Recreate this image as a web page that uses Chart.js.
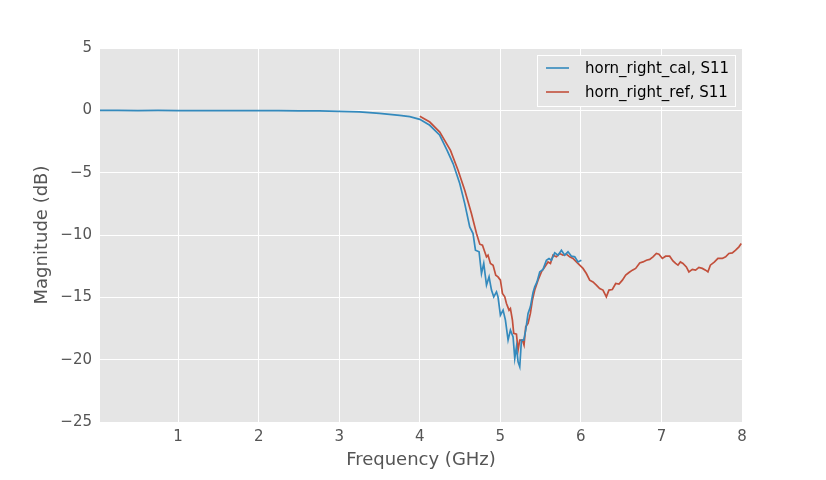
<!DOCTYPE html>
<html>
<head>
<meta charset="utf-8">
<script src="https://cdn.jsdelivr.net/npm/chart.js@4.4.1/dist/chart.umd.min.js"></script>
<style>
  html, body { margin: 0; padding: 0; background: #ffffff; }
  #wrap { width: 826px; height: 480px; }
</style>
</head>
<body>
<div id="wrap"><canvas id="c" width="826" height="480"></canvas></div>
<script>
// ---- data (frequency in GHz, magnitude in dB) ----
const calFreq = [0.03, 0.25, 0.5, 0.75, 1.0, 1.25, 1.5, 1.75, 2.0, 2.25, 2.5, 2.75, 3.0, 3.25, 3.5, 3.75, 3.876, 4.0, 4.124, 4.248, 4.339, 4.413, 4.496, 4.558, 4.62, 4.661, 4.691, 4.736, 4.766, 4.794, 4.828, 4.86, 4.89, 4.918, 4.952, 4.971, 5.001, 5.034, 5.063, 5.096, 5.125, 5.158, 5.179, 5.2, 5.22, 5.241, 5.262, 5.29, 5.315, 5.344, 5.373, 5.406, 5.427, 5.455, 5.489, 5.53, 5.572, 5.604, 5.634, 5.675, 5.716, 5.758, 5.799, 5.84, 5.883, 5.924, 5.964, 6.006];
const calMag = [-0.01, -0.01, -0.02, -0.01, -0.03, -0.02, -0.03, -0.02, -0.03, -0.03, -0.04, -0.05, -0.08, -0.13, -0.25, -0.40, -0.50, -0.72, -1.20, -2.00, -3.21, -4.27, -5.87, -7.48, -9.35, -9.88, -11.22, -11.35, -13.09, -12.28, -14.02, -13.36, -14.42, -14.96, -14.56, -14.96, -16.43, -16.03, -16.83, -18.43, -17.63, -18.17, -19.90, -18.97, -20.17, -20.57, -18.43, -18.43, -17.63, -16.29, -15.76, -14.60, -14.16, -13.76, -12.96, -12.76, -12.02, -11.88, -12.02, -11.43, -11.62, -11.22, -11.62, -11.35, -11.70, -11.75, -12.16, -12.02];

const refFreq = [4.0, 4.124, 4.248, 4.381, 4.475, 4.558, 4.641, 4.704, 4.745, 4.778, 4.806, 4.828, 4.847, 4.877, 4.91, 4.943, 4.971, 5.001, 5.026, 5.055, 5.076, 5.108, 5.125, 5.15, 5.166, 5.2, 5.22, 5.241, 5.274, 5.294, 5.315, 5.344, 5.373, 5.398, 5.427, 5.468, 5.51, 5.551, 5.592, 5.622, 5.654, 5.696, 5.737, 5.778, 5.82, 5.861, 5.902, 5.944, 5.985, 6.026, 6.068, 6.109, 6.15, 6.192, 6.233, 6.274, 6.316, 6.348, 6.39, 6.432, 6.473, 6.515, 6.556, 6.597, 6.639, 6.68, 6.73, 6.771, 6.813, 6.854, 6.895, 6.937, 6.969, 7.011, 7.052, 7.102, 7.143, 7.176, 7.205, 7.235, 7.267, 7.309, 7.341, 7.383, 7.424, 7.465, 7.507, 7.548, 7.577, 7.607, 7.659, 7.701, 7.756, 7.797, 7.837, 7.88, 7.921, 7.962, 7.991];
const refMag = [-0.48, -0.94, -1.74, -3.21, -4.81, -6.41, -8.28, -9.88, -10.74, -10.82, -11.35, -11.75, -11.62, -12.28, -12.42, -13.22, -13.36, -13.62, -14.69, -14.96, -15.49, -16.03, -15.89, -16.83, -17.89, -17.95, -19.23, -18.43, -18.43, -18.83, -17.36, -17.09, -16.29, -15.22, -14.42, -13.62, -12.96, -12.56, -12.16, -12.28, -11.62, -11.75, -11.48, -11.62, -11.54, -11.75, -11.88, -12.16, -12.42, -12.68, -13.09, -13.62, -13.76, -14.02, -14.29, -14.42, -14.96, -14.42, -14.37, -13.89, -13.94, -13.62, -13.22, -13.01, -12.82, -12.68, -12.24, -12.16, -12.02, -11.96, -11.75, -11.48, -11.54, -11.88, -11.70, -11.70, -12.08, -12.28, -12.42, -12.16, -12.28, -12.56, -12.96, -12.76, -12.82, -12.60, -12.68, -12.82, -12.96, -12.42, -12.16, -11.88, -11.88, -11.75, -11.48, -11.43, -11.22, -10.95, -10.68];

const seriesLabels = ['horn_right_cal, S11', 'horn_right_ref, S11'];
const xTickValues = [1, 2, 3, 4, 5, 6, 7, 8];
const yTickValues = [5, 0, -5, -10, -15, -20, -25];
const xTitle = 'Frequency (GHz)';
const yTitle = 'Magnitude (dB)';

const COL_CAL = '#348abd';
const COL_REF = '#c2503c';
const FONT = "'DejaVu Sans', sans-serif";

function toPoints(xs, ys) { return xs.map((x, i) => ({ x: x, y: ys[i] })); }

const bgPlugin = {
  id: 'bg',
  beforeDraw(chart) {
    const { ctx, chartArea: a } = chart;
    ctx.save();
    ctx.fillStyle = '#ffffff';
    ctx.fillRect(0, 0, chart.width, chart.height);
    ctx.fillStyle = '#e5e5e5';
    ctx.fillRect(a.left, a.top, a.right - a.left, a.bottom - a.top);
    ctx.restore();
  }
};

const decoPlugin = {
  id: 'deco',
  afterDraw(chart) {
    const { ctx, chartArea: a } = chart;
    ctx.save();
    // axis titles
    ctx.fillStyle = '#555555';
    ctx.font = '18px ' + FONT;
    ctx.textAlign = 'center';
    ctx.textBaseline = 'middle';
    ctx.fillText(xTitle, (a.left + a.right) / 2, 460);
    ctx.translate(42, (a.top + a.bottom) / 2);
    ctx.rotate(-Math.PI / 2);
    ctx.fillText(yTitle, 0, 0);
    ctx.restore();

    // legend
    ctx.save();
    const bx = 537.5, by = 55.5, bw = 198, bh = 51;
    ctx.fillStyle = '#e5e5e5';
    ctx.fillRect(bx, by, bw, bh);
    ctx.strokeStyle = '#ffffff';
    ctx.lineWidth = 1;
    ctx.strokeRect(bx, by, bw, bh);
    const rows = [68, 92];
    chart.data.datasets.forEach((ds, i) => {
      ctx.strokeStyle = ds.borderColor;
      ctx.lineWidth = 1.6;
      ctx.beginPath();
      ctx.moveTo(546, rows[i]);
      ctx.lineTo(569, rows[i]);
      ctx.stroke();
      ctx.fillStyle = '#000000';
      ctx.font = '15px ' + FONT;
      ctx.textAlign = 'left';
      ctx.textBaseline = 'middle';
      ctx.fillText(ds.label, 585, rows[i] + 1);
    });
    ctx.restore();
  }
};

new Chart(document.getElementById('c'), {
  type: 'line',
  data: {
    datasets: [
      { label: seriesLabels[0], data: toPoints(calFreq, calMag), borderColor: COL_CAL, borderWidth: 1.7, pointRadius: 0, tension: 0, fill: false },
      { label: seriesLabels[1], data: toPoints(refFreq, refMag), borderColor: COL_REF, borderWidth: 1.7, pointRadius: 0, tension: 0, fill: false }
    ]
  },
  options: {
    responsive: false,
    animation: false,
    devicePixelRatio: 1,
    layout: { padding: { top: 48, right: 84, left: 0, bottom: 0 } },
    plugins: { legend: { display: false }, tooltip: { enabled: false } },
    scales: {
      x: {
        type: 'linear',
        min: calFreq[0],
        max: 8,
        afterBuildTicks(s) { s.ticks = xTickValues.map(v => ({ value: v })); },
        afterFit(s) { s.height = 58; },
        border: { display: false },
        grid: { color: '#ffffff', lineWidth: 1, drawTicks: false },
        ticks: { color: '#555555', font: { family: FONT, size: 15 }, padding: 6, maxRotation: 0, autoSkip: false,
                 callback: v => String(v) }
      },
      y: {
        type: 'linear',
        min: -25,
        max: 5,
        afterBuildTicks(s) { s.ticks = yTickValues.map(v => ({ value: v })); },
        afterFit(s) { s.width = 100; },
        border: { display: false },
        grid: { color: '#ffffff', lineWidth: 1, drawTicks: false },
        ticks: { color: '#555555', font: { family: FONT, size: 15 }, padding: 8, autoSkip: false,
                 callback: v => String(v).replace('-', '\u2212') }
      }
    }
  },
  plugins: [bgPlugin, decoPlugin]
});
</script>
</body>
</html>
